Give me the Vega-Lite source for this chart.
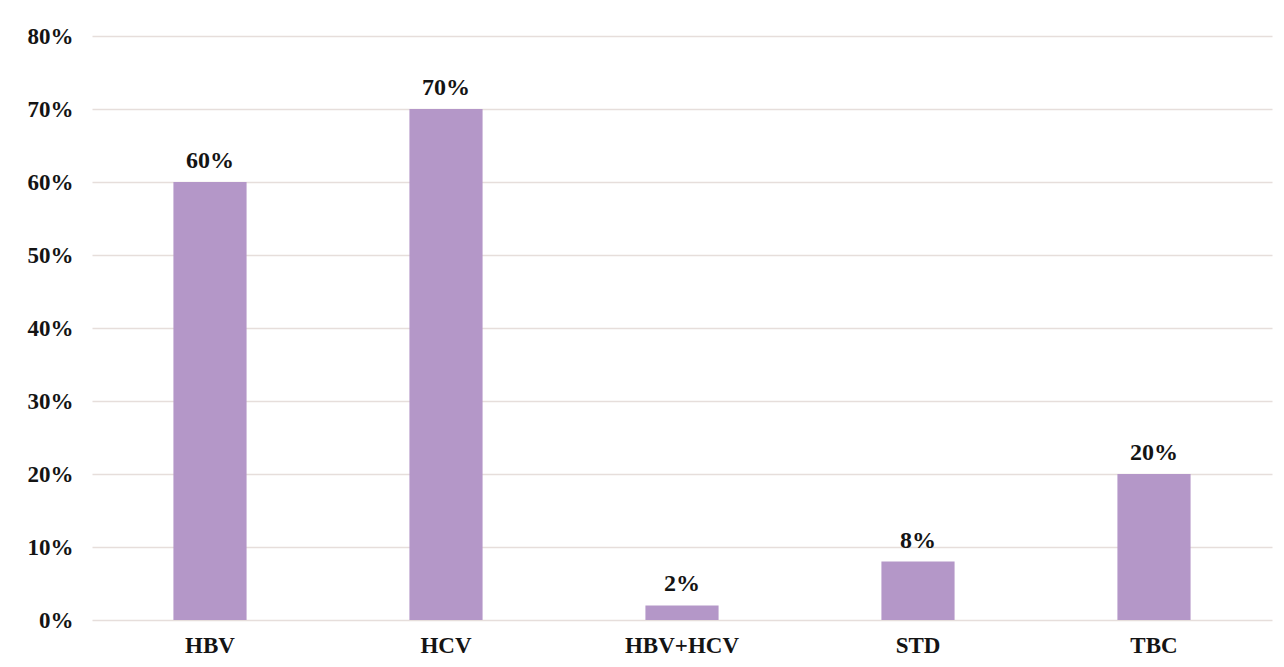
{
  "$schema": "https://vega.github.io/schema/vega-lite/v6.json",
  "width": 1180,
  "height": 584,
  "autosize": {"type": "none"},
  "padding": {"left": 92, "top": 36, "right": 12, "bottom": 47},
  "background": "white",
  "config": {
    "view": {"stroke": null},
    "font": "Liberation Serif",
    "axis": {
      "labelFont": "Liberation Serif",
      "labelFontWeight": "bold",
      "labelFontSize": 23,
      "labelColor": "#141414",
      "labelOverlap": false,
      "ticks": false,
      "domain": false,
      "title": null
    }
  },
  "data": {
    "values": [
      {"category": "HBV", "share": 0.60},
      {"category": "HCV", "share": 0.70},
      {"category": "HBV+HCV", "share": 0.02},
      {"category": "STD", "share": 0.08},
      {"category": "TBC", "share": 0.20}
    ]
  },
  "encoding": {
    "x": {
      "field": "category",
      "type": "nominal",
      "sort": null,
      "scale": {"paddingInner": 0.69, "paddingOuter": 0.345},
      "axis": {"labelAngle": 0, "labelPadding": 14, "grid": false}
    },
    "y": {
      "field": "share",
      "type": "quantitative",
      "scale": {"domain": [0, 0.8], "nice": false},
      "axis": {
        "format": ".0%",
        "values": [0, 0.1, 0.2, 0.3, 0.4, 0.5, 0.6, 0.7, 0.8],
        "grid": true,
        "gridColor": "#e6dedb",
        "gridWidth": 1.5,
        "labelPadding": 19
      }
    }
  },
  "layer": [
    {"mark": {"type": "bar", "color": "#b497c8"}},
    {
      "mark": {
        "type": "text",
        "dy": -21,
        "fontSize": 24,
        "fontWeight": "bold",
        "font": "Liberation Serif",
        "color": "#141414"
      },
      "encoding": {"text": {"field": "share", "type": "quantitative", "format": ".0%"}}
    }
  ]
}
